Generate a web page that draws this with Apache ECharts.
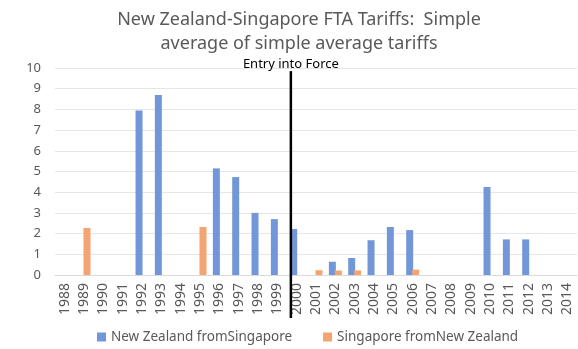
<!DOCTYPE html>
<html>
<head>
<meta charset="utf-8">
<script src="https://cdn.jsdelivr.net/npm/echarts@6/dist/echarts.min.js"></script>
<style>
  html, body { margin: 0; padding: 0; background: #fff; }
  #chart { width: 578px; height: 349px; }
</style>
</head>
<body>
<div id="chart"></div>
<script>
// Years covered by the tariff series
const years = ['1988','1989','1990','1991','1992','1993','1994','1995','1996','1997','1998','1999','2000',
  '2001','2002','2003','2004','2005','2006','2007','2008','2009','2010','2011','2012','2013','2014'];

// Simple average tariffs applied by New Zealand on imports from Singapore
const nzFromSingapore = [null, null, null, null, 7.95, 8.7, null, null, 5.15, 4.73, 3.0, 2.7, 2.22,
  null, 0.64, 0.82, 1.68, 2.32, 2.17, null, null, null, 4.25, 1.72, 1.72, null, null];

// Simple average tariffs applied by Singapore on imports from New Zealand
const sgFromNewZealand = [null, 2.27, null, null, null, null, null, 2.32, null, null, null, null, null,
  0.23, 0.22, 0.22, null, null, 0.26, null, null, null, null, null, null, null, null];

const yTicks = { min: 0, max: 10, interval: 1 };

// Entry into force sits between 1999 and 2000
const entryLabel = 'Entry into Force';
const entryFrom = '1999', entryTo = '2000', entryFrac = 0.7;

const titleText = 'New Zealand-Singapore FTA Tariffs:  Simple\naverage of simple average tariffs';

const chart = echarts.init(document.getElementById('chart'));
const font = '"Noto Sans", sans-serif';

chart.setOption({
  animation: false,
  legend: {
    bottom: 0,
    left: 92,
    icon: 'rect',
    itemWidth: 9,
    itemHeight: 9,
    itemGap: 31,
    textStyle: { color: '#595959', fontSize: 13.5, fontFamily: font }
  },
  grid: { left: 55, right: 1, top: 68, bottom: 74 },
  xAxis: {
    type: 'category',
    data: years,
    axisLine: { lineStyle: { color: '#d9d9d9' } },
    axisTick: { show: false },
    axisLabel: { rotate: 90, interval: 0, color: '#595959', fontSize: 14, fontFamily: font, margin: 8 }
  },
  yAxis: {
    type: 'value',
    min: yTicks.min, max: yTicks.max, interval: yTicks.interval,
    axisLine: { show: false },
    axisTick: { show: false },
    splitLine: { lineStyle: { color: '#e6e6e6' } },
    axisLabel: { color: '#595959', fontSize: 13, fontFamily: font, margin: 14 }
  },
  series: [
    {
      name: 'New Zealand fromSingapore',
      type: 'bar',
      data: nzFromSingapore,
      barWidth: 7,
      barGap: '-15%',
      itemStyle: { color: '#7297d8' }
    },
    {
      name: 'Singapore fromNew Zealand',
      type: 'bar',
      data: sgFromNewZealand,
      barWidth: 7,
      itemStyle: { color: '#f4a46e' }
    }
  ]
});

// Vertical marker for the agreement's entry into force
const x0 = chart.convertToPixel({ xAxisIndex: 0 }, entryFrom);
const x1 = chart.convertToPixel({ xAxisIndex: 0 }, entryTo);
const xLine = x0 + (x1 - x0) * entryFrac;
const yTop = chart.convertToPixel({ yAxisIndex: 0 }, 9.85);
const yZero = chart.convertToPixel({ yAxisIndex: 0 }, 0);

chart.setOption({
  graphic: [
    {
      // chart title, centred over the plot
      type: 'text',
      x: 299,
      y: 8,
      style: {
        text: titleText,
        fill: '#595959',
        fontSize: 18,
        fontFamily: font,
        lineHeight: 24,
        textAlign: 'center',
        textVerticalAlign: 'top'
      }
    },
    {
      type: 'line',
      shape: { x1: xLine, y1: yTop, x2: xLine, y2: yZero + 43 },
      style: { stroke: '#000', lineWidth: 2.5 },
      z: 100
    },
    {
      type: 'text',
      x: xLine,
      y: yTop - 7,
      style: {
        text: entryLabel,
        fill: '#000',
        fontSize: 13,
        fontFamily: font,
        textAlign: 'center',
        textVerticalAlign: 'middle'
      },
      z: 100
    }
  ]
});
</script>
</body>
</html>
